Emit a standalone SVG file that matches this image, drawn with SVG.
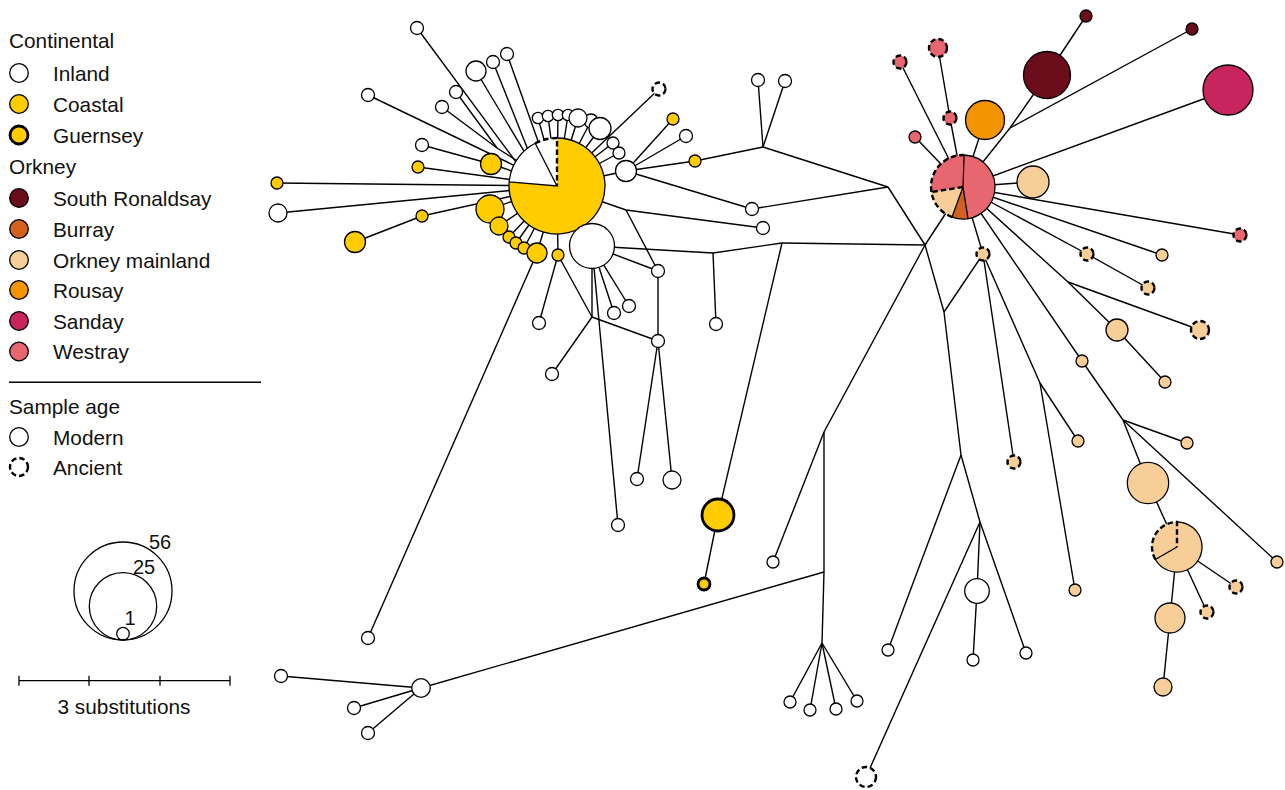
<svg xmlns="http://www.w3.org/2000/svg" width="1285" height="790" viewBox="0 0 1285 790">
<style>
text{font-family:"Liberation Sans",Arial,sans-serif;font-size:20.8px;fill:#111}
.e{stroke:#000;stroke-width:1.4;fill:none}
.n{stroke:#000;stroke-width:1.3}
.an{stroke-dasharray:5.5 3;stroke-width:2.4}
.gu{stroke-width:2.8}
.w{fill:#fff}.y{fill:#FFCC00}.sr{fill:#6B0D1A}.bu{fill:#D2601E}.om{fill:#F7CE97}.ro{fill:#F29500}.sa{fill:#C8255E}.we{fill:#E8666F}
.ps{stroke:#000;stroke-width:1.3;fill:none}
.pd{stroke:#000;stroke-width:2.4;stroke-dasharray:5.5 3;fill:none}
.pf{stroke:none}
</style>
<rect width="1285" height="790" fill="#fff"/>
<g id="legend">
<text x="9" y="47.5">Continental</text>
<circle class="n w" cx="19" cy="73" r="9.3"/><text x="53" y="80.5">Inland</text>
<circle class="n y" cx="19" cy="104" r="9.3"/><text x="53" y="111.5">Coastal</text>
<circle class="n y gu" cx="19" cy="135" r="9"/><text x="53" y="142.5">Guernsey</text>
<text x="9" y="173.5">Orkney</text>
<circle class="n sr" cx="19" cy="198" r="9.3"/><text x="53" y="205.5">South Ronaldsay</text>
<circle class="n bu" cx="19" cy="229" r="9.3"/><text x="53" y="236.5">Burray</text>
<circle class="n om" cx="19" cy="260" r="9.3"/><text x="53" y="267.5">Orkney mainland</text>
<circle class="n ro" cx="19" cy="290" r="9.3"/><text x="53" y="297.5">Rousay</text>
<circle class="n sa" cx="19" cy="321" r="9.3"/><text x="53" y="328.5">Sanday</text>
<circle class="n we" cx="19" cy="351.5" r="9.3"/><text x="53" y="359">Westray</text>
<line x1="9" y1="382.3" x2="261" y2="382.3" stroke="#000" stroke-width="1.4"/>
<text x="9" y="413.5">Sample age</text>
<circle class="n w" cx="19" cy="437" r="9.3"/><text x="53" y="444.5">Modern</text>
<circle class="n w an" cx="19" cy="467" r="9"/><text x="53" y="474.5">Ancient</text>
<circle cx="123" cy="591" r="49" fill="none" stroke="#000" stroke-width="1.3"/>
<circle cx="123" cy="606.3" r="33.7" fill="none" stroke="#000" stroke-width="1.3"/>
<circle cx="123" cy="633.7" r="6.3" fill="none" stroke="#000" stroke-width="1.3"/>
<text x="149" y="548.5" style="font-size:20px">56</text>
<text x="133" y="573.5" style="font-size:20px">25</text>
<text x="124.5" y="624.5" style="font-size:20px">1</text>
<path d="M19,680.7H230M19,675.7V685.7M89,675.7V685.7M160,675.7V685.7M230,675.7V685.7" stroke="#000" stroke-width="1.3" fill="none"/>
<text x="124" y="713.5" text-anchor="middle">3 substitutions</text>
</g>
<g id="connectors" class="e">
<line x1="417" y1="28" x2="527.7" y2="177.8"/>
<line x1="476" y1="71" x2="532.8" y2="165.8"/>
<line x1="493" y1="62" x2="531.8" y2="159.4"/>
<line x1="507" y1="54" x2="543" y2="154.9"/>
<line x1="368" y1="95" x2="557" y2="186"/>
<line x1="456" y1="92" x2="497" y2="148"/>
<line x1="442" y1="107" x2="497" y2="148"/>
<line x1="497" y1="148" x2="557" y2="186"/>
<line x1="422" y1="145" x2="491" y2="164"/>
<line x1="491" y1="164" x2="557" y2="186"/>
<line x1="418" y1="167" x2="557" y2="186"/>
<line x1="277" y1="183" x2="557" y2="186"/>
<line x1="278" y1="213" x2="557" y2="186"/>
<line x1="355" y1="242" x2="422" y2="216"/>
<line x1="422" y1="216" x2="557" y2="186"/>
<line x1="490" y1="209" x2="557" y2="186"/>
<line x1="499" y1="226" x2="557" y2="186"/>
<line x1="509" y1="237" x2="557" y2="186"/>
<line x1="516" y1="243" x2="557" y2="186"/>
<line x1="524" y1="248" x2="557" y2="186"/>
<line x1="537" y1="253" x2="557" y2="186"/>
<line x1="558" y1="255" x2="557" y2="186"/>
<line x1="558" y1="255" x2="592" y2="317"/>
<line x1="558" y1="255" x2="539" y2="323"/>
<line x1="537" y1="253" x2="368" y2="638"/>
<line x1="592" y1="246" x2="592" y2="317"/>
<line x1="592" y1="317" x2="552" y2="374"/>
<line x1="592" y1="317" x2="658" y2="341"/>
<line x1="592" y1="246" x2="614" y2="313"/>
<line x1="592" y1="246" x2="629" y2="306"/>
<line x1="592" y1="246" x2="618" y2="525"/>
<line x1="592" y1="246" x2="658" y2="271"/>
<line x1="658" y1="271" x2="658" y2="341"/>
<line x1="658" y1="341" x2="637" y2="479"/>
<line x1="658" y1="341" x2="672" y2="480"/>
<line x1="557" y1="186" x2="626" y2="210"/>
<line x1="626" y1="210" x2="658" y2="271"/>
<line x1="626" y1="210" x2="763" y2="228"/>
<line x1="557" y1="186" x2="626" y2="171"/>
<line x1="626" y1="171" x2="673" y2="119"/>
<line x1="626" y1="171" x2="686" y2="136"/>
<line x1="626" y1="171" x2="695" y2="161"/>
<line x1="695" y1="161" x2="763" y2="147"/>
<line x1="763" y1="147" x2="758" y2="80"/>
<line x1="763" y1="147" x2="785" y2="81"/>
<line x1="763" y1="147" x2="888" y2="187"/>
<line x1="626" y1="171" x2="752" y2="209"/>
<line x1="752" y1="209" x2="888" y2="187"/>
<line x1="888" y1="187" x2="925" y2="245"/>
<line x1="592" y1="246" x2="713" y2="253"/>
<line x1="713" y1="253" x2="716" y2="324"/>
<line x1="713" y1="253" x2="782" y2="243"/>
<line x1="782" y1="243" x2="925" y2="245"/>
<line x1="782" y1="243" x2="718" y2="515"/>
<line x1="718" y1="515" x2="704" y2="584"/>
<line x1="925" y1="245" x2="963" y2="187"/>
<line x1="925" y1="245" x2="944" y2="312"/>
<line x1="925" y1="245" x2="824" y2="432"/>
<line x1="824" y1="432" x2="773" y2="562"/>
<line x1="824" y1="432" x2="824" y2="572"/>
<line x1="824" y1="572" x2="421" y2="688"/>
<line x1="824" y1="572" x2="822" y2="643"/>
<line x1="822" y1="643" x2="790" y2="702"/>
<line x1="822" y1="643" x2="810" y2="710"/>
<line x1="822" y1="643" x2="836" y2="709"/>
<line x1="822" y1="643" x2="857" y2="701"/>
<line x1="421" y1="688" x2="281" y2="676"/>
<line x1="421" y1="688" x2="354" y2="708"/>
<line x1="421" y1="688" x2="368" y2="733"/>
<line x1="944" y1="312" x2="983" y2="254"/>
<line x1="944" y1="312" x2="961" y2="455"/>
<line x1="983" y1="254" x2="963" y2="187"/>
<line x1="983" y1="254" x2="1014" y2="462"/>
<line x1="983" y1="254" x2="1040" y2="383"/>
<line x1="1040" y1="383" x2="1078" y2="441"/>
<line x1="1040" y1="383" x2="1075" y2="590"/>
<line x1="961" y1="455" x2="888" y2="650"/>
<line x1="961" y1="455" x2="980" y2="522"/>
<line x1="980" y1="522" x2="977" y2="591"/>
<line x1="977" y1="591" x2="973" y2="660"/>
<line x1="980" y1="522" x2="866" y2="777"/>
<line x1="980" y1="522" x2="1026" y2="653"/>
<line x1="538" y1="118" x2="557" y2="186"/>
<line x1="548" y1="116" x2="557" y2="186"/>
<line x1="558" y1="115" x2="557" y2="186"/>
<line x1="568" y1="115" x2="557" y2="186"/>
<line x1="578" y1="118" x2="557" y2="186"/>
<line x1="591" y1="121" x2="557" y2="186"/>
<line x1="600" y1="128.5" x2="557" y2="186"/>
<line x1="613" y1="143" x2="557" y2="186"/>
<line x1="619" y1="153" x2="557" y2="186"/>
<line x1="659" y1="89" x2="557" y2="186"/>
<line x1="1047" y1="75" x2="1010" y2="128"/>
<line x1="1010" y1="128" x2="963" y2="187"/>
<line x1="1086" y1="16" x2="1047" y2="75"/>
<line x1="1192" y1="29" x2="1010" y2="128"/>
<line x1="1228" y1="90" x2="963" y2="187"/>
<line x1="985" y1="120" x2="963" y2="187"/>
<line x1="1033" y1="182" x2="963" y2="187"/>
<line x1="915" y1="137" x2="963" y2="187"/>
<line x1="950" y1="118" x2="963" y2="187"/>
<line x1="938" y1="48" x2="950" y2="118"/>
<line x1="900" y1="62" x2="963" y2="187"/>
<line x1="1240" y1="235" x2="963" y2="187"/>
<line x1="1162" y1="255" x2="963" y2="187"/>
<line x1="1087" y1="254" x2="963" y2="187"/>
<line x1="1087" y1="254" x2="1148" y2="288"/>
<line x1="963" y1="187" x2="1068" y2="282"/>
<line x1="1068" y1="282" x2="1117" y2="330"/>
<line x1="1068" y1="282" x2="1200" y2="330"/>
<line x1="1117" y1="330" x2="1165" y2="382"/>
<line x1="963" y1="187" x2="1082" y2="361"/>
<line x1="1082" y1="361" x2="1123" y2="420"/>
<line x1="1123" y1="420" x2="1187" y2="443"/>
<line x1="1123" y1="420" x2="1148" y2="483"/>
<line x1="1123" y1="420" x2="1277" y2="562"/>
<line x1="1148" y1="483" x2="1177" y2="547"/>
<line x1="1177" y1="547" x2="1170" y2="618"/>
<line x1="1170" y1="618" x2="1163" y2="687"/>
<line x1="1177" y1="547" x2="1236" y2="587"/>
<line x1="1177" y1="547" x2="1207" y2="612"/>
</g>
<g id="pie-continental">
<path class="pf y" d="M557,186 L557,138 A48,48 0 1 1 509.18,181.82 Z"/>
<path class="pf w" d="M557,186 L509.18,181.82 A48,48 0 0 1 557,138 Z"/>
<path class="ps" d="M557,138 A48,48 0 1 1 535.21,143.23 M509.18,181.82 L557,186 L535.21,143.23"/>
<path class="pd" d="M535.21,143.23 A48,48 0 0 1 557,138 L557,186"/>
</g>
<g id="n-WB"><circle class="n w" cx="592" cy="246" r="22.5"/></g>
<g id="n-a6"><circle class="n w" cx="591" cy="121" r="7"/></g>
<g id="n-a1"><circle class="n w" cx="538" cy="118" r="5.7"/></g>
<g id="n-a2"><circle class="n w" cx="548" cy="116" r="5.7"/></g>
<g id="n-a3"><circle class="n w" cx="558" cy="115" r="5.7"/></g>
<g id="n-a4"><circle class="n w" cx="568" cy="115" r="5.7"/></g>
<g id="n-a5"><circle class="n w" cx="578" cy="118" r="9"/></g>
<g id="n-a7"><circle class="n w" cx="600" cy="128.5" r="11"/></g>
<g id="n-a8"><circle class="n w" cx="613" cy="143" r="6"/></g>
<g id="n-a9"><circle class="n w" cx="619" cy="153" r="6"/></g>
<g id="n-N10"><circle class="n w" cx="626" cy="171" r="10.5"/></g>
<g id="n-b1"><circle class="n y" cx="673" cy="119" r="6"/></g>
<g id="n-b2"><circle class="n w" cx="686" cy="136" r="6.5"/></g>
<g id="n-b3"><circle class="n y" cx="695" cy="161" r="6"/></g>
<g id="n-c1"><circle class="n w an" cx="659" cy="89" r="6.5"/></g>
<g id="n-L1"><circle class="n w" cx="417" cy="28" r="6.5"/></g>
<g id="n-L2"><circle class="n w" cx="476" cy="71" r="10"/></g>
<g id="n-L3"><circle class="n w" cx="493" cy="62" r="6.5"/></g>
<g id="n-L4"><circle class="n w" cx="507" cy="54" r="6.5"/></g>
<g id="n-L5"><circle class="n w" cx="368" cy="95" r="6.5"/></g>
<g id="n-L6"><circle class="n w" cx="456" cy="92" r="6.5"/></g>
<g id="n-L7"><circle class="n w" cx="442" cy="107" r="6.5"/></g>
<g id="n-L8"><circle class="n w" cx="422" cy="145" r="6.5"/></g>
<g id="n-Y1"><circle class="n y" cx="491" cy="164" r="10.5"/></g>
<g id="n-Y2"><circle class="n y" cx="418" cy="167" r="6"/></g>
<g id="n-Y3"><circle class="n y" cx="277" cy="183" r="6"/></g>
<g id="n-W1"><circle class="n w" cx="278" cy="213" r="9"/></g>
<g id="n-Y4"><circle class="n y" cx="422" cy="216" r="6"/></g>
<g id="n-Y5"><circle class="n y" cx="355" cy="242" r="10.5"/></g>
<g id="n-Y6"><circle class="n y" cx="490" cy="209" r="14"/></g>
<g id="n-Y7"><circle class="n y" cx="499" cy="226" r="9"/></g>
<g id="n-Y8"><circle class="n y" cx="509" cy="237" r="6"/></g>
<g id="n-Y9"><circle class="n y" cx="516" cy="243" r="6"/></g>
<g id="n-Y10"><circle class="n y" cx="524" cy="248" r="6"/></g>
<g id="n-Y11"><circle class="n y" cx="537" cy="253" r="10"/></g>
<g id="n-Y12"><circle class="n y" cx="558" cy="255" r="6"/></g>
<g id="n-D1"><circle class="n w" cx="539" cy="323" r="6.5"/></g>
<g id="n-D2"><circle class="n w" cx="552" cy="374" r="6.5"/></g>
<g id="n-D3"><circle class="n w" cx="658" cy="341" r="6.5"/></g>
<g id="n-D4"><circle class="n w" cx="614" cy="313" r="6.5"/></g>
<g id="n-D5"><circle class="n w" cx="629" cy="306" r="6.5"/></g>
<g id="n-D6"><circle class="n w" cx="618" cy="525" r="6.5"/></g>
<g id="n-D7"><circle class="n w" cx="658" cy="271" r="6.5"/></g>
<g id="n-D8"><circle class="n w" cx="637" cy="479" r="6.5"/></g>
<g id="n-D9"><circle class="n w" cx="672" cy="480" r="9"/></g>
<g id="n-E1"><circle class="n w" cx="368" cy="638" r="6.5"/></g>
<g id="n-M1"><circle class="n w" cx="763" cy="228" r="6.5"/></g>
<g id="n-M2"><circle class="n w" cx="752" cy="209" r="6.5"/></g>
<g id="n-M3"><circle class="n w" cx="758" cy="80" r="6.5"/></g>
<g id="n-M4"><circle class="n w" cx="785" cy="81" r="6.5"/></g>
<g id="n-M5"><circle class="n w" cx="716" cy="324" r="6.5"/></g>
<g id="n-G1"><circle class="n y gu" cx="718" cy="515" r="16"/></g>
<g id="n-G2"><circle class="n y gu" cx="704" cy="584" r="6"/></g>
<g id="n-M6"><circle class="n w" cx="773" cy="562" r="6"/></g>
<g id="n-F1"><circle class="n w" cx="790" cy="702" r="6"/></g>
<g id="n-F2"><circle class="n w" cx="810" cy="710" r="6"/></g>
<g id="n-F3"><circle class="n w" cx="836" cy="709" r="6"/></g>
<g id="n-F4"><circle class="n w" cx="857" cy="701" r="6"/></g>
<g id="n-BW"><circle class="n w" cx="421" cy="688" r="9.3"/></g>
<g id="n-H1"><circle class="n w" cx="281" cy="676" r="6.5"/></g>
<g id="n-H2"><circle class="n w" cx="354" cy="708" r="6.5"/></g>
<g id="n-H3"><circle class="n w" cx="368" cy="733" r="6.5"/></g>
<g id="n-M7"><circle class="n w" cx="888" cy="650" r="6"/></g>
<g id="n-M8"><circle class="n w" cx="977" cy="591" r="12.3"/></g>
<g id="n-M9"><circle class="n w" cx="973" cy="660" r="6"/></g>
<g id="n-M10"><circle class="n w" cx="1026" cy="653" r="6"/></g>
<g id="n-MD"><circle class="n w an" cx="866" cy="777" r="10"/></g>
<g id="pie-westray">
<path class="pf we" d="M963,187 L964.12,155.02 A32,32 0 0 1 968.01,218.61 Z"/>
<path class="pf bu" d="M963,187 L968.01,218.61 A32,32 0 0 1 952.06,217.07 Z"/>
<path class="pf om" d="M963,187 L952.06,217.07 A32,32 0 0 1 931.39,192.01 Z"/>
<path class="pf we" d="M963,187 L931.39,192.01 A32,32 0 0 1 964.12,155.02 Z"/>
<path class="ps" d="M964.12,155.02 A32,32 0 1 1 952.06,217.07 M964.12,155.02 L963,187 L968.01,218.61 M963,187 L952.06,217.07"/>
<path class="pd" d="M952.06,217.07 A32,32 0 0 1 964.12,155.02 M963,187 L931.39,192.01"/>
</g>
<g id="n-SRB"><circle class="n sr" cx="1047" cy="75" r="23.5"/></g>
<g id="n-SR1"><circle class="n sr" cx="1086" cy="16" r="6"/></g>
<g id="n-SR2"><circle class="n sr" cx="1192" cy="29" r="6"/></g>
<g id="n-SA"><circle class="n sa" cx="1228" cy="90" r="25"/></g>
<g id="n-RO"><circle class="n ro" cx="985" cy="120" r="19.5"/></g>
<g id="n-OM1"><circle class="n om" cx="1033" cy="182" r="16"/></g>
<g id="n-WE1"><circle class="n we" cx="915" cy="137" r="6"/></g>
<g id="n-WD1"><circle class="n we an" cx="950" cy="118" r="6.5"/></g>
<g id="n-WD2"><circle class="n we an" cx="938" cy="48" r="9"/></g>
<g id="n-WD3"><circle class="n we an" cx="900" cy="62" r="6.5"/></g>
<g id="n-WD4"><circle class="n we an" cx="1240" cy="235" r="6.5"/></g>
<g id="n-K7"><circle class="n om" cx="1162" cy="255" r="6"/></g>
<g id="n-KD1"><circle class="n om an" cx="1087" cy="254" r="6.5"/></g>
<g id="n-KD2"><circle class="n om an" cx="1148" cy="288" r="6.5"/></g>
<g id="n-K5"><circle class="n om" cx="1117" cy="330" r="11"/></g>
<g id="n-KD3"><circle class="n om an" cx="1200" cy="330" r="9"/></g>
<g id="n-K8"><circle class="n om" cx="1165" cy="382" r="6"/></g>
<g id="n-K6"><circle class="n om" cx="1082" cy="361" r="6"/></g>
<g id="n-K9"><circle class="n om" cx="1187" cy="443" r="6"/></g>
<g id="n-BM"><circle class="n om" cx="1148" cy="483" r="20.7"/></g>
<g id="n-K10"><circle class="n om" cx="1277" cy="562" r="6"/></g>
<g id="pie-mainland">
<path class="pf om" d="M1177,547 L1177,522 A25,25 0 1 1 1155.35,559.5 Z"/>
<path class="pf om" d="M1177,547 L1155.35,559.5 A25,25 0 0 1 1177,522 Z"/>
<path class="ps" d="M1177,522 A25,25 0 1 1 1155.35,559.5 L1177,547"/>
<path class="pd" d="M1155.35,559.5 A25,25 0 0 1 1177,522 L1177,547"/>
</g>
<g id="n-K11"><circle class="n om" cx="1170" cy="618" r="15"/></g>
<g id="n-K12"><circle class="n om" cx="1163" cy="687" r="9"/></g>
<g id="n-KD4"><circle class="n om an" cx="1236" cy="587" r="6.5"/></g>
<g id="n-KD5"><circle class="n om an" cx="1207" cy="612" r="6.5"/></g>
<g id="n-K1"><circle class="n om an" cx="983" cy="254" r="6.5"/></g>
<g id="n-K2"><circle class="n om an" cx="1014" cy="462" r="6.5"/></g>
<g id="n-K3"><circle class="n om" cx="1078" cy="441" r="6"/></g>
<g id="n-K4"><circle class="n om" cx="1075" cy="590" r="6"/></g>
</svg>
